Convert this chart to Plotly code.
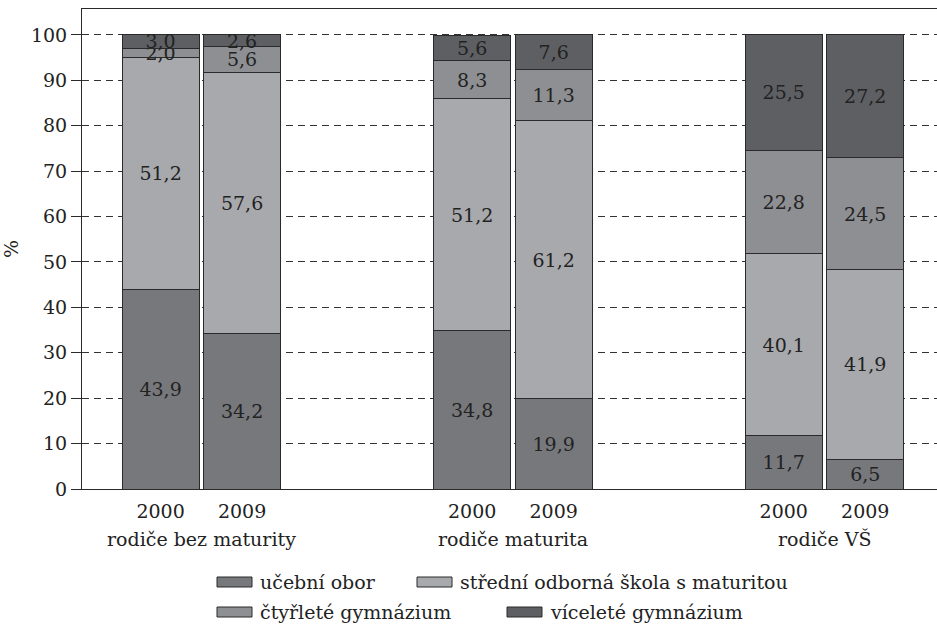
import plotly.graph_objects as go

# ---- data ----
groups = ["rodiče bez maturity", "rodiče maturita", "rodiče VŠ"]
years = ["2000", "2009"]
series_names = ["učební obor", "střední odborná škola s maturitou",
                "čtyřleté gymnázium", "víceleté gymnázium"]
# values per series, ordered: group1-2000, group1-2009, group2-2000, group2-2009, group3-2000, group3-2009
ucebni_obor = [43.9, 34.2, 34.8, 19.9, 11.7, 6.5]
stredni_odborna = [51.2, 57.6, 51.2, 61.2, 40.1, 41.9]
ctyrlete_gym = [2.0, 5.6, 8.3, 11.3, 22.8, 24.5]
vicelete_gym = [3.0, 2.6, 5.6, 7.6, 25.5, 27.2]
y_ticks = [0, 10, 20, 30, 40, 50, 60, 70, 80, 90, 100]

series_values = [ucebni_obor, stredni_odborna, ctyrlete_gym, vicelete_gym]
colors = ["#77787c", "#a8a9ad", "#8e8f93", "#5e5f62"]

FONT = "DejaVu Serif"
FS = 19
TXT = "#222222"

# bar positions derived from group index and year index
offset = 0.1308
bar_w = 0.247
x_pos = []
x_lbl = []
for gi, g in enumerate(groups):
    for yi, yr in enumerate(years):
        x_pos.append(gi + (yi - 0.5) * 2 * offset)
        x_lbl.append(yr)

fig = go.Figure()
for name, vals, col in zip(series_names, series_values, colors):
    fig.add_trace(go.Bar(
        x=x_pos, y=vals, name=name, width=bar_w,
        marker=dict(color=col, line=dict(color="#2a2a2a", width=1)),
        text=vals, texttemplate="%{y:.1f}", textposition="inside",
        insidetextanchor="middle", textangle=0,
        textfont=dict(family=FONT, size=FS, color=TXT),
        showlegend=False, hoverinfo="skip",
    ))

# layout geometry
L, R, T, B = 82, 0, 9, 140
W, H = 937, 629
pw, ph = W - L - R, H - T - B

def py(pix):
    return (H - B - pix) / ph

def px(pix):
    return (pix - L) / pw

annotations = []
for gi, g in enumerate(groups):
    annotations.append(dict(x=gi, y=py(539), xref="x", yref="paper", text=g,
                            showarrow=False, yanchor="middle", xanchor="center",
                            font=dict(family=FONT, size=FS, color=TXT)))

# manual legend (wide rectangular swatches)
legend_layout = [  # (symbol left px, row center px)
    (217, 582), (417, 582), (217, 612), (507, 612)
]
shapes = []
for (sx, cy), name, col in zip(legend_layout, series_names, colors):
    shapes.append(dict(type="rect", xref="paper", yref="paper",
                       x0=px(sx), x1=px(sx + 35), y0=py(cy + 5), y1=py(cy - 5),
                       fillcolor=col, line=dict(color="#2a2a2a", width=1)))
    annotations.append(dict(x=px(sx + 41), y=py(cy), xref="paper", yref="paper",
                            text=name, showarrow=False, xanchor="left", yanchor="middle",
                            font=dict(family=FONT, size=FS, color=TXT)))

fig.update_layout(
    barmode="stack",
    width=W, height=H,
    margin=dict(l=L, r=R, t=T, b=B, pad=0),
    paper_bgcolor="white", plot_bgcolor="white",
    separators=", ",
    uniformtext=dict(minsize=FS, mode="show"),
    font=dict(family=FONT, size=FS, color=TXT),
    annotations=annotations, shapes=shapes,
    showlegend=False,
)
fig.update_xaxes(
    range=[-0.383, 2.361], tickmode="array", tickvals=x_pos, ticktext=x_lbl,
    showgrid=False, zeroline=False, showline=True, linecolor="#2a2a2a", linewidth=1,
    mirror=True, ticks="", ticklabelstandoff=5,
    tickfont=dict(family=FONT, size=FS, color=TXT),
)
fig.update_yaxes(
    range=[0, 105.7], tickmode="array", tickvals=y_ticks,
    showgrid=True, gridcolor="#333333", gridwidth=1, griddash="7px,5px",
    zeroline=False, showline=True, linecolor="#2a2a2a", linewidth=1,
    ticks="outside", ticklen=10, tickcolor="#2a2a2a",
    tickfont=dict(family=FONT, size=FS, color=TXT),
    title=dict(text="%", font=dict(family=FONT, size=FS, color=TXT), standoff=7),
    automargin=False,
)

fig.write_html(
    "out.html",
    config={"displayModeBar": False},
    post_script="document.body.style.margin='0px';document.body.style.overflow='hidden';",
)
